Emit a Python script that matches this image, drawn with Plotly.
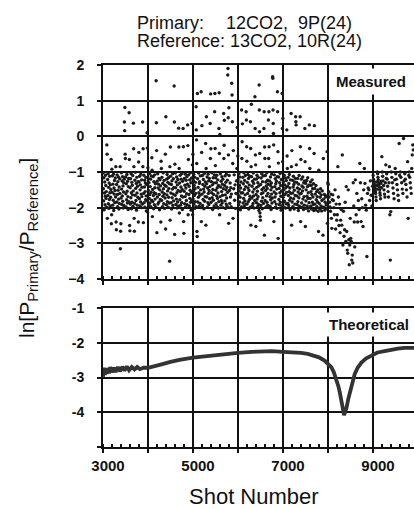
import plotly.graph_objects as go

# ---------------- data ----------------
# Measured ln ratio, grouped by 100-shot bins
bin_start = [3000, 3100, 3200, 3300, 3400, 3500, 3600, 3700, 3800, 3900,
             4000, 4100, 4200, 4300, 4400, 4500, 4600, 4700, 4800, 4900,
             5000, 5100, 5200, 5300, 5400, 5500, 5600, 5700, 5800, 5900,
             6000, 6100, 6200, 6300, 6400, 6500, 6600, 6700, 6800, 6900,
             7000, 7100, 7200, 7300, 7400, 7500, 7600, 7700, 7800, 7900,
             8000, 8100, 8200, 8300, 8400, 8500, 8600, 8700, 8800, 8900,
             9000, 9100, 9200, 9300, 9400, 9500, 9600, 9700, 9800]

ratio_by_bin = [
    [-1.03,-1.47,-1.81,-1.16,-2.06,-1.59,-1.28,-1.92,-1.68,-1.09,-1.38,-1.74,-1.55,-1.99, -0.24,-0.5,-2.3],
    [-1.21,-1.66,-1.04,-1.89,-1.43,-2.02,-1.31,-1.77,-1.12,-1.58,-1.95,-1.36,-1.71,-1.49, -0.65,-2.45,-2.2,-0.92],
    [-1.57,-1.11,-1.93,-1.34,-1.79,-1.06,-2.08,-1.45,-1.62,-1.24,-1.86,-1.52,-1.17,-1.7, -0.85,-2.4,-2.62],
    [-1.35,-1.84,-1.08,-1.63,-1.97,-1.27,-1.51,-1.14,-1.76,-2.04,-1.42,-1.88,-1.19,-1.6, -0.85,-3.15,-2.66,-2.45],
    [-1.73,-1.02,-1.48,-1.91,-1.25,-1.67,-1.13,-1.82,-1.39,-2.01,-1.56,-1.3,-1.94,-1.2, 0.4,0.16,0.81,-0.5,-0.62],
    [-1.14,-1.61,-1.98,-1.33,-1.78,-1.07,-1.54,-1.87,-1.26,-1.69,-2.05,-1.41,-1.18,-1.83, 0.66,-0.65,-2.5,-2.65],
    [-1.44,-1.9,-1.19,-1.72,-1.05,-1.58,-2.03,-1.29,-1.85,-1.37,-1.64,-1.1,-1.96,-1.53, 0.37,-0.35,-0.85,-2.3,-2.66],
    [-1.88,-1.23,-1.65,-1.01,-1.46,-1.8,-1.32,-2.07,-1.15,-1.59,-1.93,-1.4,-1.71,-1.27, -2.4,-0.72,-0.45],
    [-1.28,-1.75,-1.12,-1.95,-1.5,-1.36,-1.84,-1.06,-1.62,-2.0,-1.22,-1.69,-1.43,-1.9, 0.4,-0.85,-0.35,-2.42],
    [-1.6,-1.09,-1.86,-1.42,-1.23,-1.99,-1.55,-1.31,-1.78,-1.15,-1.67,-2.09,-1.35,-1.81, 0.1,-0.33,-2.12,-0.88],
    [-1.17,-1.52,-1.94,-1.3,-1.74,-1.04,-1.63,-1.87,-1.41,-1.2,-1.97,-1.57,-1.11,-1.79, -0.6,-0.95,-2.25],
    [-1.49,-1.83,-1.13,-1.66,-2.03,-1.27,-1.58,-1.92,-1.08,-1.44,-1.76,-1.33,-1.98,-1.61, 1.56,0.38,-0.4,-2.7],
    [-1.26,-1.7,-1.05,-1.9,-1.45,-1.34,-1.85,-1.18,-1.63,-2.06,-1.5,-1.22,-1.77,-1.39, -2.4,-0.7,-0.9],
    [-1.8,-1.15,-1.56,-1.97,-1.32,-1.68,-1.02,-1.47,-1.89,-1.24,-1.61,-2.02,-1.37,-1.73, -0.5,-2.6,0.55],
    [-1.4,-1.92,-1.2,-1.64,-1.07,-1.83,-1.53,-1.29,-1.99,-1.16,-1.71,-1.46,-1.87,-1.33, -3.5,-0.85,-2.35,-0.3],
    [-1.12,-1.59,-1.86,-1.35,-2.04,-1.25,-1.72,-1.48,-1.05,-1.94,-1.62,-1.19,-1.81,-1.43, 1.41,0.4,-2.75,-0.78],
    [-1.65,-1.03,-1.44,-1.91,-1.28,-1.76,-1.14,-1.58,-2.01,-1.36,-1.84,-1.21,-1.52,-1.96, 0.23,-0.3,-0.9,-2.15],
    [-1.31,-1.78,-1.09,-1.55,-1.93,-1.42,-1.2,-1.67,-1.86,-1.04,-1.49,-2.05,-1.26,-1.7, 0.22,-0.29,-2.39,-2.72],
    [-1.54,-1.18,-1.89,-1.37,-1.69,-1.06,-1.98,-1.45,-1.23,-1.8,-1.61,-1.13,-1.92,-1.34, 0.32,-0.26,-2.2,-0.65],
    [-1.08,-1.63,-1.4,-1.95,-1.22,-1.74,-1.51,-1.02,-1.85,-1.3,-2.07,-1.57,-1.17,-1.79, 0.36,-0.8,-2.2,-0.5],
    [-1.76,-1.24,-1.53,-1.07,-1.9,-1.38,-1.66,-2.02,-1.15,-1.47,-1.83,-1.29,-1.6,-1.97, 0.83,0.18,-0.1,-0.76,-2.67,-2.81,1.2],
    [-1.19,-1.84,-1.43,-1.71,-1.03,-1.58,-1.96,-1.32,-1.27,-1.65,-1.88,-1.11,-1.5,-2.0, 1.25,-2.39,-0.45,0.3],
    [-1.62,-1.1,-1.94,-1.35,-1.77,-1.21,-1.48,-2.03,-1.56,-1.04,-1.82,-1.4,-1.69,-1.28, -0.2,-2.49,-0.9,0.55],
    [-1.33,-1.7,-1.14,-1.99,-1.45,-1.86,-1.06,-1.6,-1.25,-1.91,-1.52,-1.18,-1.75,-1.41, 0.36,-0.62,1.19,-0.35],
    [-1.85,-1.27,-1.58,-1.02,-1.72,-1.36,-2.05,-1.49,-1.16,-1.79,-1.63,-1.31,-1.95,-1.08, 0.69,1.2,-0.34,-0.82],
    [-1.16,-1.51,-1.89,-1.3,-1.67,-1.09,-1.97,-1.44,-1.74,-1.22,-1.59,-2.01,-1.38,-1.83, 0.22,1.22,-0.48,-2.2,0.05],
    [-1.69,-1.05,-1.42,-1.93,-1.26,-1.8,-1.55,-1.13,-1.87,-1.34,-1.65,-1.2,-2.0,-1.47, 0.64,-0.62,-0.25,0.45],
    [-1.38,-1.81,-1.11,-1.64,-2.02,-1.29,-1.5,-1.9,-1.06,-1.73,-1.43,-1.96,-1.23,-1.57, 1.72,1.9,0.52,-0.52,-2.44,0.8],
    [-1.1,-1.52,-1.88,-1.31,-1.7,-1.44,-1.97,-1.62, 1.49,1.16,0.41,-0.76,-2.3,-0.4],
    [-1.47,-1.08,-1.79,-1.36,-2.02,-1.6,-1.25, -0.9,0.25,-0.55],
    [-1.22,-1.66,-1.92,-1.04,-1.53,-1.37,-1.84,-1.14,-1.71,-2.06,-1.45,-1.28,-1.59,-1.98, 0.74,-0.62,-0.15,0.35],
    [-1.58,-1.15,-1.87,-1.33,-1.74,-1.02,-1.96,-1.49,-1.24,-1.81,-1.64,-1.1,-1.41,-1.9, 0.69,0.46,-0.29,-0.7],
    [-1.9,-1.29,-1.6,-1.07,-1.45,-1.83,-1.18,-2.04,-1.52,-1.36,-1.77,-1.12,-1.68,-1.99, 0.41,-0.34,-2.49,-0.85,0.9],
    [-1.13,-1.73,-1.4,-1.95,-1.26,-1.56,-1.88,-1.03,-1.67,-1.32,-2.01,-1.48,-1.2,-1.8, 1.11,0.22,-0.52,-0.8,-2.53],
    [-1.63,-1.2,-1.86,-1.43,-1.09,-1.76,-1.54,-1.97,-1.3,-1.69,-1.15,-1.91,-1.39,-2.08, 1.44,0.74,0.13,-0.48,-2.15,-2.25,-2.35],
    [-1.35,-1.94,-1.17,-1.61,-1.82,-1.05,-1.49,-2.03,-1.27,-1.72,-1.58,-1.11,-1.88,-1.44, 0.22,0.69,-2.77,-0.3,-0.62],
    [-1.8,-1.1,-1.52,-1.28,-1.98,-1.39,-1.67,-1.02,-1.85,-1.46,-1.23,-1.93,-1.6,-1.34, 0.46,-0.62,0.69,-0.29,-0.85],
    [-1.25,-1.69,-1.96,-1.37,-1.14,-1.78,-1.5,-2.05,-1.31,-1.62,-1.06,-1.87,-1.43,-1.73, 1.67,1.63,0.74,0.36,0.08,-0.24,-2.39],
    [-1.56,-1.08,-1.83,-1.41,-1.7,-1.19,-1.99,-1.33,-1.61,-1.9,-1.26,-1.48,-2.02,-1.13, 1.25,0.69,-0.43,-2.86,-0.75],
    [-1.14,-1.77,-1.46,-1.92,-1.3,-1.58,-1.04,-1.85,-1.38,-1.68,-2.07,-1.21,-1.53,-1.95, 1.2,0.22,-0.71,0.5],
    [-1.71,-1.27,-1.98,-1.5,-1.09,-1.82,-1.36,-1.63,-1.17,-2.01,-1.44,-1.89,-1.24,-1.57, 0.18,-0.55,-0.9],
    [-1.4,-1.88,-1.15,-1.66,-1.94,-1.32,-1.55,-1.07,-1.79,-1.45,-2.06,-1.22,-1.73,-1.6, 0.64,-0.85,-2.49,-0.4],
    [-1.84,-1.23,-1.59,-1.97,-1.42,-1.12,-1.75,-1.35,-2.04,-1.51,-1.28,-1.9,-1.66,-1.18, 0.55,0.41,0.32,-0.8],
    [-1.29,-1.67,-1.91,-1.45,-1.18,-1.83,-1.56,-2.08,-1.34,-1.72,-1.1,-1.96,-1.48,-1.62, 0.55,-0.29,-2.39,-0.65],
    [-1.6,-1.2,-1.87,-1.39,-1.99,-1.53,-1.14,-1.76,-1.43,-2.05,-1.3,-1.69,-1.93,-1.25, 0.22,-0.71,-2.53],
    [-1.32,-1.81,-1.5,-2.02,-1.24,-1.68,-1.95,-1.41,-1.16,-1.74,-1.58,-2.09,-1.37,-1.86, 0.32,-0.34,-0.9],
    [-1.74,-1.28,-1.96,-1.55,-1.38,-2.04,-1.63,-1.22,-1.85,-1.47,-1.7,-1.91,-1.33,-2.08, -0.48,0.3],
    [-1.46,-1.9,-1.62,-2.06,-1.38,-1.78,-1.55,-1.97,-1.69,-1.84,-1.5,-2.1, -2.67,-0.95],
    [-1.88,-1.58,-2.03,-1.71,-1.47,-1.95,-1.64,-2.09,-1.8,-1.53,-1.99, -2.77,-0.62],
    [-1.76,-1.99,-1.63,-2.07,-1.85,-1.7,-2.02,-1.92,-1.67, -0.43,-2.44,-1.3],
    [-1.35,-1.55,-1.7,-1.85,-1.98,-2.1,-1.62,-2.3,-2.58,-1.78],
    [-1.64,-1.8,-2.0,-2.2,-1.5,-2.6,-1.9,-2.35],
    [-2.2,-0.85,-1.7,-2.5,-1.9,-2.7,-2.35,-2.05],
    [-2.49,-0.52,-3.05,-2.1,-2.8,-2.62,-1.85,-2.95],
    [-1.41,-2.67,-3.19,-3.28,-1.5,-2.9,-3.6,-3.05,-2.3],
    [-2.86,-2.95,-3.47,-3.33,-3.55,-1.3,-1.95,-2.4,-3.1],
    [-1.22,-2.2,-1.6,-2.4,-1.8,-2.05],
    [-0.76,-1.3,-2.39,-1.75,-2.0,-2.53,-1.5],
    [-0.9,-1.32,-1.93,-2.07,-3.37,-1.6,-1.45],
    [-1.5,-1.8,-1.25,-1.65,-1.95,-1.4],
    [-1.1,-1.2,-1.25,-1.3,-1.35,-1.4,-1.45,-1.5,-1.55,-1.6,-1.7,-1.8,-1.28,-1.38,-1.48,-1.0],
    [-1.05,-1.15,-1.22,-1.3,-1.36,-1.42,-1.5,-1.58,-1.65,-1.75,-1.32,-1.26,-1.44,-0.57],
    [-1.0,-1.12,-1.25,-1.38,-1.5,-1.62,-1.7,-1.3,-0.8,-1.18],
    [-1.05,-1.2,-1.4,-1.55,-1.7,-1.3,-0.85,-2.2,-3.47,-2.11],
    [-1.0,-1.15,-1.3,-1.45,-1.6,-1.75,-1.22,-0.9],
    [-1.05,-1.2,-1.35,-1.5,-1.65,-1.8,-0.2,-1.1],
    [-1.0,-1.15,-1.3,-1.48,-1.6,-0.06,-1.25],
    [-1.05,-1.2,-1.35,-1.5,-1.7,-0.71,-2.3,-1.1],
    [-1.0,-1.15,-1.3,-1.45,-1.6,-0.9,-0.52,-0.24,-0.38],
]

# Theoretical curve
theory_shot = [3000, 3020, 3040, 3060, 3080, 3100, 3130, 3160, 3200, 3240, 3280,
               3330, 3380, 3430, 3480, 3530, 3580, 3640, 3700, 3760, 3820, 3900,
               4000, 4150, 4300, 4500, 4700, 5000, 5200, 5400, 5700, 6000, 6300,
               6500, 6750, 7000, 7200, 7400, 7550, 7700, 7800, 7930, 8000, 8077,
               8130, 8188, 8230, 8262, 8300, 8336, 8358, 8380, 8410, 8450, 8483,
               8530, 8594, 8660, 8742, 8850, 8985, 9100, 9258, 9400, 9553, 9700, 9911]
theory_ratio = [-2.98, -2.72, -2.93, -2.74, -2.9, -2.73, -2.88, -2.7, -2.85, -2.72, -2.84,
                -2.7, -2.82, -2.69, -2.8, -2.68, -2.79, -2.7, -2.77, -2.7, -2.76, -2.72,
                -2.72, -2.68, -2.62, -2.55, -2.49, -2.43, -2.4, -2.36, -2.32, -2.29, -2.26,
                -2.25, -2.24, -2.26, -2.27, -2.29, -2.32, -2.37, -2.42, -2.52, -2.6, -2.71,
                -2.85, -3.05, -3.25, -3.43, -3.65, -3.9, -4.08, -4.0, -3.88, -3.62, -3.43,
                -3.15, -2.9, -2.72, -2.57, -2.45, -2.36, -2.28, -2.24, -2.2, -2.17, -2.15, -2.15]

x_grid = [3000, 4000, 5000, 6000, 7000, 8000, 9000]
x_ticktext = ["3000", "", "5000", "", "7000", "", "9000"]
y_top_ticks = [-4, -3, -2, -1, 0, 1, 2]
y_bot_ticks = [-5, -4, -3, -2, -1]
y_bot_text = ["", "-4", "-3", "-2", "-1"]

# ---------------- figure ----------------
mx, my = [], []
for start, vals in zip(bin_start, ratio_by_bin):
    n = len(vals)
    for i, v in enumerate(vals):
        mx.append(start + 100.0 * (i + 0.5) / n)
        my.append(v)

fig = go.Figure()
fig.add_trace(go.Scatter(x=mx, y=my, mode="markers", xaxis="x", yaxis="y",
                         marker=dict(size=3.4, color="#1a1a1a"),
                         showlegend=False, hoverinfo="skip"))
fig.add_trace(go.Scatter(x=theory_shot, y=theory_ratio, mode="lines", xaxis="x2", yaxis="y2",
                         line=dict(color="#333333", width=3.8),
                         showlegend=False, hoverinfo="skip"))

W, H = 414, 509
L, R, T, B = 103, 0, 65, 509 - 447
plot_h = H - T - B  # 382
top_dom = [(447 - 279) / plot_h, 1.0]
bot_dom = [0.0, (447 - 308) / plot_h]

FONT = "Liberation Sans, Arial, Helvetica, sans-serif"
INK = "#111111"

common = dict(showgrid=True, gridcolor=INK, gridwidth=2, showline=True, linecolor=INK,
              linewidth=2, zeroline=False, ticks="outside", ticklen=4, tickwidth=2,
              tickcolor=INK)

xr = [3000, 3000 + (414 - 103) / 45.0 * 1000]

fig.update_layout(
    width=W, height=H, autosize=False,
    margin=dict(l=L, r=R, t=T, b=B, pad=0),
    paper_bgcolor="white", plot_bgcolor="white",
    font=dict(family=FONT, color=INK),
    xaxis=dict(domain=[0, 1], anchor="y", range=xr, tickvals=x_grid, showticklabels=False,
               mirror=True,
               minor=dict(dtick=200, tick0=3000, ticks="inside", ticklen=3, tickwidth=1.5,
                          tickcolor=INK, showgrid=False),
               **common),
    yaxis=dict(domain=top_dom, anchor="x", range=[-4, 2], tickvals=y_top_ticks,
               tickfont=dict(size=14, weight="bold", family=FONT), ticklabelstandoff=10,
               **common),
    xaxis2=dict(domain=[0, 1], anchor="y2", range=xr, tickvals=x_grid, ticktext=x_ticktext,
                tickfont=dict(size=15, weight="bold", family=FONT), ticklabelshift=5,
                ticklabeloverflow="allow",
                mirror=True,
                minor=dict(dtick=200, tick0=3000, ticks="inside", ticklen=3, tickwidth=1.5,
                           tickcolor=INK, showgrid=False),
                **common),
    yaxis2=dict(domain=bot_dom, anchor="x2", range=[-5, -1], tickvals=y_bot_ticks,
                ticktext=y_bot_text,
                tickfont=dict(size=14, weight="bold", family=FONT), ticklabelstandoff=10,
                **common),
)

# helpers: page pixel -> paper fraction
def px_x(p):
    return (p - L) / (W - L)

def px_y(p):
    return (447 - p) / plot_h

ann = [
    dict(text="Primary:", x=px_x(135), y=px_y(23), xanchor="left", size=18),
    dict(text="12CO2,  9P(24)", x=px_x(224), y=px_y(23), xanchor="left", size=18),
    dict(text="Reference: 13CO2, 10R(24)", x=px_x(135), y=px_y(41), xanchor="left", size=18),
    dict(text="Shot Number", x=px_x(254), y=px_y(496), xanchor="center", size=22),
]
for a in ann:
    fig.add_annotation(text=a["text"], x=a["x"], y=a["y"], xref="paper", yref="paper",
                       xanchor=a["xanchor"], yanchor="middle", showarrow=False,
                       font=dict(size=a["size"], family=FONT, color=INK))

fig.add_annotation(text="ln[P<sub>Primary</sub>/P<sub>Reference</sub>]",
                   x=px_x(28), y=px_y(248), xref="paper", yref="paper",
                   xanchor="center", yanchor="middle", textangle=-90, showarrow=False,
                   font=dict(size=21, family=FONT, color=INK))

fig.add_annotation(text="<b>Measured</b>", x=px_x(411), y=px_y(81), xref="paper", yref="paper",
                   xanchor="right", yanchor="middle", showarrow=False,
                   bgcolor="white", borderpad=4,
                   font=dict(size=15, family=FONT, color=INK))
fig.add_annotation(text="<b>Theoretical</b>", x=px_x(413), y=px_y(324), xref="paper", yref="paper",
                   xanchor="right", yanchor="middle", showarrow=False,
                   bgcolor="white", borderpad=3,
                   font=dict(size=15, family=FONT, color=INK))

fig.write_html("out.html",
               config={"displayModeBar": False, "staticPlot": True},
               post_script="document.body.style.margin='0px';"
                           "document.body.style.overflow='hidden';")
